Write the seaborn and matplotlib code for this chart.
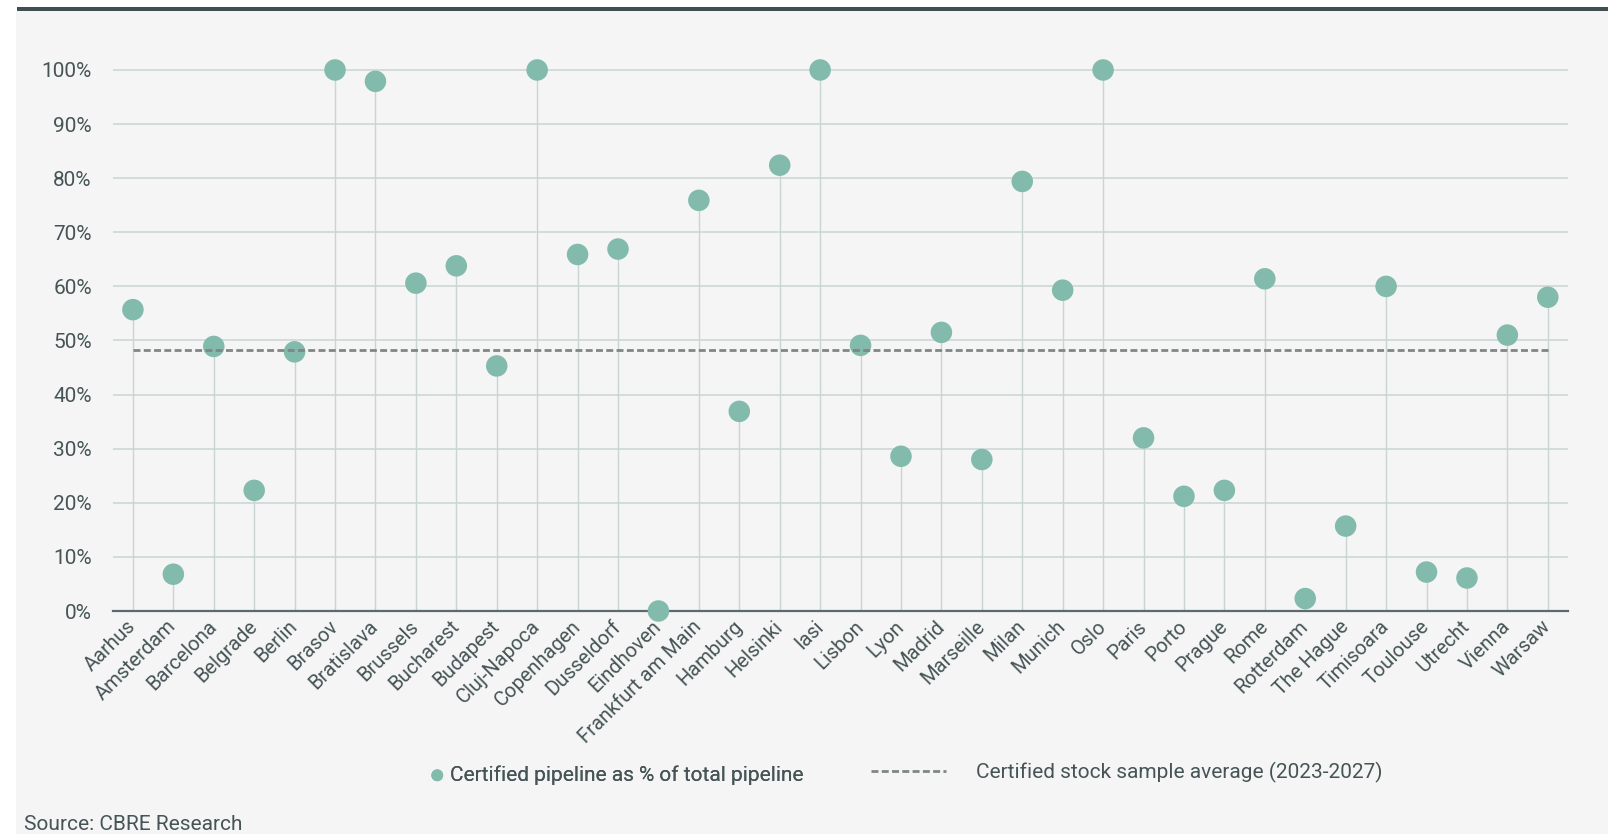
import numpy as np
import pandas as pd
import matplotlib
matplotlib.use("Agg")
import matplotlib.pyplot as plt
from matplotlib.patches import Rectangle
from matplotlib.ticker import PercentFormatter
import seaborn as sns

cities = ["Aarhus", "Amsterdam", "Barcelona", "Belgrade", "Berlin", "Brasov",
          "Bratislava", "Brussels", "Bucharest", "Budapest", "Cluj-Napoca",
          "Copenhagen", "Dusseldorf", "Eindhoven", "Frankfurt am Main", "Hamburg",
          "Helsinki", "Iasi", "Lisbon", "Lyon", "Madrid", "Marseille", "Milan",
          "Munich", "Oslo", "Paris", "Porto", "Prague", "Rome", "Rotterdam",
          "The Hague", "Timisoara", "Toulouse", "Utrecht", "Vienna", "Warsaw"]
pipeline_pct = [55.7, 6.8, 48.9, 22.3, 47.9, 100.0,
                97.9, 60.6, 63.8, 45.3, 100.0,
                65.9, 66.9, 0.0, 75.9, 36.9,
                82.4, 100.0, 49.1, 28.6, 51.5, 28.0, 79.4,
                59.3, 100.0, 32.0, 21.2, 22.3, 61.4, 2.3,
                15.7, 60.0, 7.2, 6.1, 51.0, 58.0]
stock_average = 48.2
series_label = "Certified pipeline as % of total pipeline"
average_label = "Certified stock sample average (2023-2027)"
source_text = "Source: CBRE Research"

df = pd.DataFrame({"city": cities, "value": np.array(pipeline_pct) / 100.0})
df["pos"] = np.arange(len(df))

sns.set_theme(style="white")
plt.rcParams["font.family"] = ["Roboto", "DejaVu Sans"]

W, H = 1611, 834
fig = plt.figure(figsize=(W / 100, H / 100), dpi=100, facecolor="white")

# background panel and top bar
fig.add_artist(Rectangle((16 / W, 0), (1608 - 16) / W, (H - 11) / H,
                         transform=fig.transFigure, facecolor="#f5f5f5",
                         edgecolor="none", zorder=-10))
fig.add_artist(Rectangle((17 / W, (H - 11) / H), (1608 - 17) / W, 4 / H,
                         transform=fig.transFigure, facecolor="#404f52",
                         edgecolor="none", zorder=-9))

ax = fig.add_axes([112.7 / W, 0.2544, (1568 - 112.7) / W, 0.968 - 0.2544])
ax.set_facecolor("none")

text_col = "#465456"
dot_col = "#82bbac"

ax.vlines(df["pos"], 0, df["value"], color="#c9d5d3", lw=1.0, zorder=2)
sns.scatterplot(data=df, x="pos", y="value", ax=ax, s=240, color=dot_col,
                edgecolor="none", linewidth=0, zorder=3, clip_on=False,
                label=series_label, legend=False)
avg_line = ax.hlines(stock_average / 100.0, 0, len(cities) - 1, color="#808586",
                     lw=2.0, linestyles=(0, (2.5, 1.2)), zorder=4,
                     label=average_label)

for s in ["top", "right", "left"]:
    ax.spines[s].set_visible(False)
ax.spines["bottom"].set_position(("data", 0))
ax.spines["bottom"].set_color("#5b6a6c")
ax.spines["bottom"].set_linewidth(1.6)
ax.spines["bottom"].set_zorder(2.5)

ax.set_xlim(-0.5, len(cities) - 0.5)
ax.set_ylim(-0.02, 1.08)
ax.set_yticks(np.arange(0, 1.01, 0.1))
ax.yaxis.set_major_formatter(PercentFormatter(1.0, decimals=0))
ax.set_xticks(df["pos"])
ax.set_xticklabels(cities)
ax.set_xlabel("")
ax.set_ylabel("")

ax.grid(axis="y", color="#d4dcdb", lw=1.4, zorder=0)
ax.grid(axis="x", visible=False)
ax.set_axisbelow(True)

ax.tick_params(axis="y", length=0, pad=15, labelsize=15, labelcolor=text_col)
ax.tick_params(axis="x", length=0, pad=9, labelsize=14.5, labelcolor=text_col)
plt.setp(ax.get_xticklabels(), rotation=45, ha="right",
         rotation_mode="anchor", va="center")

# legends
h1 = ax.collections[1]
leg1 = fig.legend(handles=[h1], labels=[series_label], loc="center left",
                  bbox_to_anchor=(431 / W, (H - 775) / H), frameon=False,
                  fontsize=15, handlelength=0.6, handletextpad=0.3,
                  borderpad=0, borderaxespad=0, markerscale=0.55,
                  labelcolor=text_col)
fig.add_artist(leg1)
leg2 = fig.legend(handles=[avg_line], labels=[average_label], loc="center left",
                  bbox_to_anchor=(871 / W, (H - 772) / H), frameon=False,
                  fontsize=15, handlelength=3.62, handletextpad=1.43,
                  borderpad=0, borderaxespad=0, labelcolor=text_col)

fig.text(24 / W, 4 / H, source_text, fontsize=15, color=text_col,
         va="baseline", ha="left")

fig.savefig("out.png", dpi=100, facecolor="white")
